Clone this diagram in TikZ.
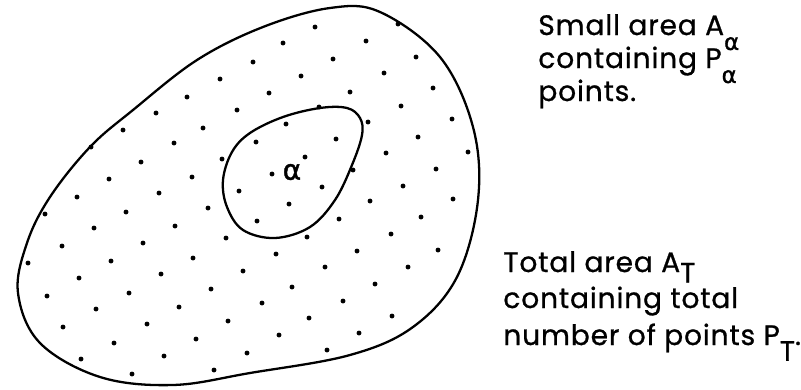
\documentclass[tikz,border=0pt]{standalone}
\usepackage{fontspec}
\setmainfont{Poppins}[FakeBold=0.8, LetterSpace=3]
\newfontfamily\greekfont{DejaVu Sans}[FakeBold=1.5]
\newcommand{\lowsub}[2]{\raisebox{-#1}{#2}}
\begin{document}
\begin{tikzpicture}[x=0.02cm, y=-0.02cm,
    lbl/.style={anchor=base west, inner sep=0pt, font=\fontsize{16}{18}\selectfont},
    dot/.style={fill=black}]
    \useasboundingbox (0,0) rectangle (801,389);

    % Total area
    \draw[line width=1.3pt] plot[smooth cycle, tension=0.6] coordinates {
        (330,8) (380,12) (440,57) (473,127) (478,200) (457,277) (413,327)
        (350,355) (250,373) (173,385) (100,377) (40,343) (18,293) (27,243)
        (50,197) (90,147) (133,110) (197,60) (263,27)};

    % Small area
    \draw[line width=1.3pt] plot[smooth cycle, tension=0.6] coordinates {
        (320,108) (347,108) (360,118) (362,135) (352,165) (335,200)
        (310,227) (275,238) (243,230) (227,207) (223,180) (232,152)
        (250,133) (283,117)};
    \node (alpha) at (292,172) {\greekfont\fontsize{16}{16}\selectfont α};

    % Points
    \foreach \px/\py in {315/27, 398/24, 283/43, 366/41, 253/62, 333/59,
        416/57, 220/79, 301/76, 384/73, 187/97, 269/93, 350/92, 433/88,
        156/113, 237/110, 319/107, 401/106, 123/130, 203/128, 286/124,
        368/122, 452/119, 91/147, 174/143, 256/142, 336/139, 418/137,
        141/162, 222/159, 305/157, 386/153, 468/152, 109/179, 192/177,
        272/174, 353/170, 436/169, 77/197, 159/193, 239/191, 322/187,
        403/186, 45/214, 126/212, 208/208, 289/204, 370/201, 453/199,
        94/228, 175/226, 257/221, 339/219, 421/217, 62/246, 143/243,
        226/238, 307/237, 391/234, 28/263, 111/261, 193/258, 276/254,
        357/251, 438/250, 79/278, 161/274, 243/271, 325/267, 408/267,
        47/296, 129/293, 211/289, 292/287, 375/284, 96/309, 179/307,
        262/303, 343/301, 63/327, 147/324, 228/321, 309/318, 392/316,
        114/343, 196/339, 279/335, 359/333, 81/359, 164/356, 247/353,
        327/350, 132/374, 214/370} {
        \fill[dot] (\px,\py) circle[radius=1.4pt];
    }

    % Labels
    \node[lbl] (small1) at (538,35) {Small area A\lowsub{8.5pt}{\greekfont\fontsize{13}{13}\selectfont α}};
    \node[lbl] (small2) at (538,68) {containing P\lowsub{8.5pt}{\greekfont\fontsize{13}{13}\selectfont α}};
    \node[lbl] (small3) at (538,101) {points.};

    \node[lbl] (total1) at (503,272) {Total area A\lowsub{6pt}{T}};
    \node[lbl] (total2) at (503,308) {containing total};
    \node[lbl] (total3) at (503,345) {number of points P\lowsub{9pt}{T}.};
\end{tikzpicture}
\end{document}
